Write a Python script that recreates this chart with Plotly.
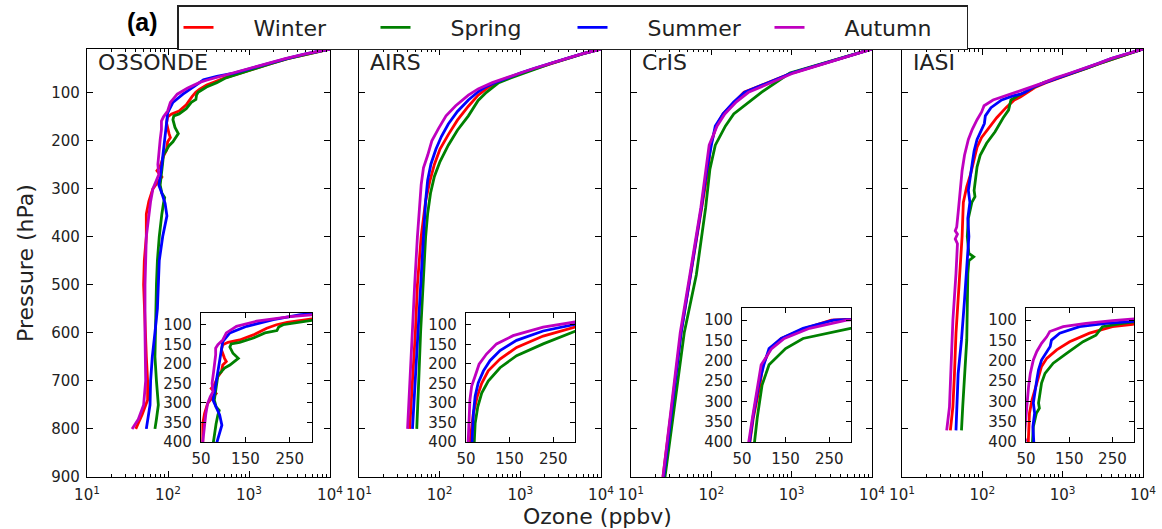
import plotly.graph_objects as go

# ---------------- data ----------------
seasons = ["Winter", "Spring", "Summer", "Autumn"]
colors = ["#ff0000", "#008000", "#0000ff", "#bf00bf"]
panels = ["O3SONDE", "AIRS", "CrIS", "IASI"]

x_tick_vals = [10, 100, 1000, 10000]
x_tick_text = ["10<sup>1</sup>", "10<sup>2</sup>", "10<sup>3</sup>", "10<sup>4</sup>"]
p_tick_vals = [100, 200, 300, 400, 500, 600, 700, 800, 900]
inset_x_ticks = [50, 150, 250]
inset_p_ticks = [100, 150, 200, 250, 300, 350, 400]

# O3SONDE
o3_winter_p = [10, 20, 30, 40, 50, 60, 70, 78, 85, 94, 100, 109, 126, 139, 145, 151, 164, 186, 194, 203,
               220, 233, 254, 263, 276, 284, 301, 327, 353, 400, 450, 500, 550, 600, 650, 700, 740, 770, 800]
o3_winter_v = [10000, 5200, 3000, 1900, 1200, 800, 500, 380, 300, 244, 220, 198, 168, 137, 111, 99, 96, 103, 107, 99,
               96, 88, 80, 73, 84, 77, 65, 58, 54, 54, 51, 50, 51, 52, 54, 56, 56, 48, 40]
o3_spring_p = [10, 20, 30, 40, 50, 60, 70, 80, 89, 100, 106, 115, 121, 134, 145, 149, 157, 173, 186, 203,
               211, 220, 229, 246, 267, 293, 310, 319, 331, 353, 400, 450, 500, 600, 650, 700, 750, 780, 800]
o3_spring_v = [10000, 5200, 3000, 1900, 1250, 820, 520, 400, 299, 235, 225, 221, 194, 168, 137, 118, 115, 122, 134, 115,
               103, 96, 88, 86, 83, 80, 84, 91, 88, 84, 78, 74, 72, 69, 69, 72, 76, 72, 69]
o3_summer_p = [10, 20, 30, 40, 50, 60, 67, 74, 87, 104, 121, 143, 164, 186, 207, 229, 250, 276, 293, 310,
               331, 357, 374, 400, 450, 500, 550, 600, 650, 700, 750, 800]
o3_summer_v = [10000, 5000, 2900, 1800, 1100, 650, 400, 274, 213, 153, 115, 99, 96, 93, 90, 88, 84, 80, 77, 84,
               92, 97, 92, 86, 78, 76, 74, 69, 64, 61, 60, 54]
o3_autumn_p = [10, 20, 30, 40, 50, 60, 68, 75, 79, 91, 104, 121, 139, 151, 160, 177, 199, 224, 250, 271,
               284, 301, 327, 353, 400, 450, 500, 600, 700, 750, 780, 800]
o3_autumn_v = [10000, 5000, 2800, 1700, 1050, 620, 400, 299, 251, 175, 130, 107, 99, 88, 83, 83, 80, 78, 75, 77,
               71, 65, 61, 58, 54, 53, 52, 52, 53, 50, 43, 36]

# AIRS
airs_winter_p = [10, 20, 30, 40, 50, 60, 70, 80, 90, 106, 129, 158, 188, 218, 250, 283, 326, 400, 500, 600, 700, 800]
airs_winter_v = [10000, 5900, 3800, 2400, 1600, 1050, 720, 500, 400, 300, 227, 166, 128, 101, 86, 76, 67, 59, 53, 50, 46, 42.5]
airs_spring_p = [10, 20, 30, 40, 50, 60, 70, 80, 90, 100, 117, 149, 179, 210, 244, 275, 310, 352, 400, 500, 600, 700, 800]
airs_spring_v = [10000, 5900, 3800, 2400, 1650, 1100, 760, 540, 450, 380, 300, 227, 166, 128, 101, 86, 77, 71, 67, 62, 58, 55, 52]
airs_summer_p = [10, 20, 30, 40, 50, 60, 70, 80, 90, 99, 116, 140, 166, 192, 218, 249, 283, 326, 400, 500, 600, 700, 800]
airs_summer_v = [10000, 5800, 3700, 2300, 1500, 1000, 680, 480, 360, 300, 227, 166, 128, 105, 90, 78, 71, 67, 63, 58, 54, 50, 46]
airs_autumn_p = [10, 20, 30, 40, 50, 60, 70, 80, 93, 106, 128, 149, 175, 201, 231, 257, 292, 352, 400, 500, 600, 700, 800]
airs_autumn_v = [10000, 5800, 3700, 2300, 1500, 1000, 680, 450, 300, 227, 158, 120, 97, 80, 71, 63, 59, 55, 53, 49, 46, 43, 40]

# CrIS
cris_p = [10, 60, 100, 120, 145, 170, 210, 260, 340, 480, 600, 900]
cris_winter_v = [10000, 1000, 255, 195, 140, 115, 98, 91, 76, 56, 42, 25]
cris_spring_v = [10000, 950, 420, 299, 190, 150, 112, 96, 85, 65, 46, 26.5]
cris_summer_v = [10000, 1000, 260, 190, 140, 112, 100, 88, 75, 55, 42, 25.5]
cris_autumn_v = [10000, 1050, 290, 205, 147, 118, 94, 86, 74, 54, 41, 25]

# IASI
iasi_winter_p = [10, 20, 30, 40, 50, 60, 70, 80, 90, 100, 110, 116, 132, 153, 173, 194, 214, 239, 272, 296,
                 329, 400, 477, 560, 601, 685, 754, 803]
iasi_winter_v = [10000, 6500, 4200, 2900, 2000, 1350, 900, 620, 450, 370, 297, 250, 197, 151, 121, 98, 86, 79, 71, 64,
                 58, 56, 52, 49, 47, 45, 43, 40]
iasi_spring_p = [10, 20, 30, 40, 50, 60, 70, 80, 90, 100, 108, 116, 137, 153, 182, 206, 231, 255, 276, 304,
                 317, 329, 362, 400, 435, 442, 450, 477, 615, 685, 720, 754, 803]
iasi_spring_v = [10000, 6500, 4200, 2900, 2000, 1300, 880, 580, 430, 330, 273, 227, 212, 182, 144, 113, 94, 86, 83, 79,
                 81, 74, 67, 65, 68, 78, 68, 66, 64, 60, 58, 57, 55]
iasi_summer_p = [10, 20, 30, 40, 50, 60, 70, 80, 90, 100, 104, 108, 116, 132, 149, 165, 198, 222, 247, 272,
                 304, 329, 362, 400, 477, 532, 615, 685, 803]
iasi_summer_v = [10000, 6300, 4000, 2800, 1900, 1250, 850, 600, 420, 340, 296, 235, 174, 128, 109, 106, 86, 79, 75, 71,
                 67, 70, 66, 68, 64, 60, 55, 50, 47]
iasi_autumn_p = [10, 20, 30, 40, 50, 60, 70, 81, 95, 101, 108, 116, 128, 141, 157, 177, 198, 231, 263, 312,
                 350, 380, 388, 395, 405, 415, 477, 574, 685, 754, 803]
iasi_autumn_v = [10000, 6300, 4000, 2800, 1900, 1250, 820, 560, 320, 250, 189, 136, 105, 98, 86, 75, 67, 60, 56, 52,
                 50, 48, 46, 49, 46, 49, 47, 43, 40, 39, 36]

series = {
    "O3SONDE": [(o3_winter_p, o3_winter_v), (o3_spring_p, o3_spring_v),
                (o3_summer_p, o3_summer_v), (o3_autumn_p, o3_autumn_v)],
    "AIRS": [(airs_winter_p, airs_winter_v), (airs_spring_p, airs_spring_v),
             (airs_summer_p, airs_summer_v), (airs_autumn_p, airs_autumn_v)],
    "CrIS": [(cris_p, cris_winter_v), (cris_p, cris_spring_v),
             (cris_p, cris_summer_v), (cris_p, cris_autumn_v)],
    "IASI": [(iasi_winter_p, iasi_winter_v), (iasi_spring_p, iasi_spring_v),
             (iasi_summer_p, iasi_summer_v), (iasi_autumn_p, iasi_autumn_v)],
}

# ---------------- layout geometry (pixels) ----------------
W, H = 1162, 529
main_x = [(87, 330), (359, 601), (631, 872), (902, 1143)]
main_y = (49, 477)
inset_x = [(201, 312), (466, 575), (742, 851), (1026, 1134)]
inset_y = [(313, 442), (313, 442), (308, 442), (308, 442)]

FONT = "DejaVu Sans"
TXT = "#222222"
NBSP = "\u00a0"


def xd(a, b):
    return [a / W, b / W]


def yd(top, bottom):
    return [1 - bottom / H, 1 - top / H]


def ax_name(n, letter):
    return letter if n == 1 else f"{letter}{n}"


fig = go.Figure()
for i, name in enumerate(panels):
    for j, (p, v) in enumerate(series[name]):
        for n in (i + 1, i + 5):
            fig.add_trace(go.Scatter(
                x=v, y=p, mode="lines",
                line=dict(color=colors[j], width=2.8),
                name=NBSP * 5 + seasons[j],
                showlegend=(i == 0 and n == 1),
                xaxis=ax_name(n, "x"), yaxis=ax_name(n, "y"),
                hoverinfo="skip",
            ))

minor_vals = [m * 10 ** e for e in (1, 2, 3) for m in range(2, 10)]
common = dict(showline=True, linecolor="black", linewidth=1.3, mirror="allticks",
              ticks="inside", tickcolor="black", showgrid=False, zeroline=False,
              tickfont=dict(family=FONT, size=15, color=TXT))

layout_axes = {}
for i in range(4):
    n = i + 1
    layout_axes["xaxis" if n == 1 else f"xaxis{n}"] = dict(
        common, domain=xd(*main_x[i]), type="log", range=[1, 4],
        anchor=ax_name(n, "y"), tickmode="array", tickvals=x_tick_vals, ticktext=x_tick_text,
        ticklen=6, ticklabelstandoff=4,
        minor=dict(tickmode="array", tickvals=minor_vals, ticks="inside", ticklen=3,
                   tickcolor="black", showgrid=False))
    layout_axes["yaxis" if n == 1 else f"yaxis{n}"] = dict(
        common, domain=yd(*main_y), range=[900, 10], anchor=ax_name(n, "x"),
        tickmode="array", tickvals=p_tick_vals, showticklabels=(i == 0),
        ticklen=6, ticklabelstandoff=3)
    m = i + 5
    layout_axes[f"xaxis{m}"] = dict(
        common, domain=xd(*inset_x[i]), range=[50, 300], anchor=f"y{m}",
        tickmode="array", tickvals=inset_x_ticks, ticklen=5, ticklabelstandoff=3)
    layout_axes[f"yaxis{m}"] = dict(
        common, domain=yd(*inset_y[i]), range=[400, 70], anchor=f"x{m}",
        tickmode="array", tickvals=inset_p_ticks, ticklen=5, ticklabelstandoff=5)

annotations = []
for i, name in enumerate(panels):
    annotations.append(dict(text=name, x=(main_x[i][0] + 9) / W, y=1 - 62 / H,
                            xref="paper", yref="paper", xanchor="left", yanchor="middle",
                            showarrow=False, font=dict(family=FONT, size=22, color=TXT)))
annotations.append(dict(text="Pressure (hPa)", x=25 / W, y=1 - 263 / H, xref="paper", yref="paper",
                        textangle=-90, showarrow=False, xanchor="center", yanchor="middle",
                        font=dict(family=FONT, size=22, color=TXT)))
annotations.append(dict(text="Ozone (ppbv)", x=597 / W, y=1 - 516 / H, xref="paper", yref="paper",
                        showarrow=False, xanchor="center", yanchor="middle",
                        font=dict(family=FONT, size=22, color=TXT)))
annotations.append(dict(text="<b>(a)</b>", x=142 / W, y=1 - 22 / H, xref="paper", yref="paper",
                        showarrow=False, xanchor="center", yanchor="middle",
                        font=dict(family="Liberation Sans", size=25, color="black")))

fig.update_layout(
    width=W, height=H, autosize=False,
    margin=dict(l=0, r=0, t=0, b=0, pad=0, autoexpand=False),
    paper_bgcolor="white", plot_bgcolor="white",
    font=dict(family=FONT, color=TXT),
    annotations=annotations,
    legend=dict(orientation="h", x=177 / W, y=1 - 5 / H, xanchor="left", yanchor="top",
                bordercolor="#222222", borderwidth=1.5, bgcolor="white",
                font=dict(family=FONT, size=22, color=TXT),
                entrywidth=152, entrywidthmode="pixels"),
    **layout_axes,
)

fig.write_html("out.html")
